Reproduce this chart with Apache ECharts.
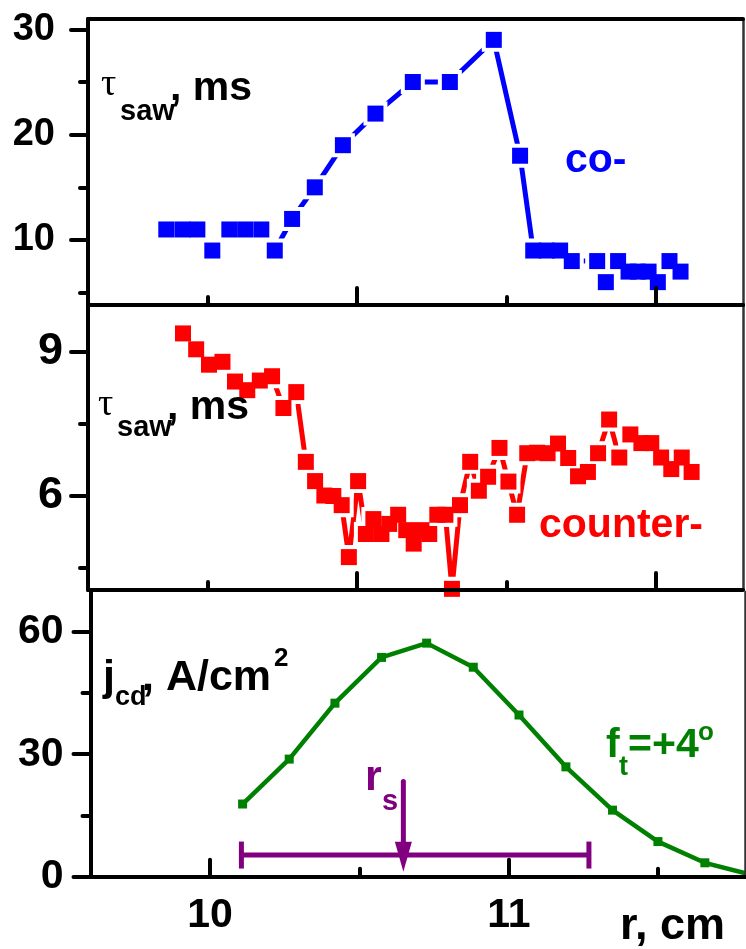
<!DOCTYPE html>
<html>
<head>
<meta charset="utf-8">
<script src="https://cdn.jsdelivr.net/npm/echarts@6/dist/echarts.min.js"></script>
<style>
  html, body { margin: 0; padding: 0; background: #fff; }
  #chart { width: 746px; height: 949px; }
</style>
</head>
<body>
<div id="chart"></div>
<script>
// Sawtooth period for co-current drive, r (cm) vs tau_saw (ms)
const coR = [9.862, 9.916, 9.966, 10.016, 10.073, 10.126, 10.180, 10.225, 10.283, 10.359,
             10.453, 10.562, 10.687, 10.811, 10.958, 11.046, 11.090, 11.135, 11.180, 11.219,
             11.304, 11.333, 11.374, 11.409, 11.440, 11.476, 11.507, 11.546, 11.583];
const coTau = [11, 11, 11, 9, 11, 11, 11, 9, 12, 15,
               19, 22, 25, 25, 29, 18, 9, 9, 9, 8,
               8, 6, 8, 7, 7, 7, 6, 8, 7];

// Sawtooth period for counter-current drive
const ctrR = [9.918, 9.962, 10.005, 10.050, 10.092, 10.133, 10.175, 10.216, 10.254, 10.297,
              10.329, 10.360, 10.391, 10.421, 10.449, 10.473, 10.504, 10.530, 10.555, 10.582,
              10.608, 10.638, 10.665, 10.690, 10.716, 10.742, 10.769, 10.796, 10.818, 10.845,
              10.879, 10.908, 10.939, 10.977, 11.007, 11.036, 11.070, 11.103, 11.138, 11.173,
              11.207, 11.240, 11.273, 11.307, 11.344, 11.378, 11.415, 11.452, 11.485, 11.518,
              11.552, 11.587, 11.620];
const ctrTau = [9.38, 9.05, 8.73, 8.79, 8.38, 8.20, 8.40, 8.49, 7.83, 8.16,
                6.71, 6.31, 6.01, 6.00, 5.81, 4.73, 6.31, 5.21, 5.52, 5.21,
                5.42, 5.61, 5.29, 5.01, 5.29, 5.21, 5.61, 5.61, 4.07, 5.81,
                6.71, 6.11, 6.40, 7.00, 6.30, 5.61, 6.89, 6.90, 6.89, 7.09,
                6.79, 6.41, 6.50, 6.89, 7.59, 6.80, 7.28, 7.10, 7.10, 6.80,
                6.56, 6.80, 6.50];

// Driven current density profile j_cd (A/cm^2)
const jR = [10.109, 10.265, 10.418, 10.574, 10.725, 10.881, 11.034, 11.191, 11.347, 11.499, 11.656, 11.81];
const jCd = [17.8, 28.8, 42.5, 53.7, 57.2, 51.3, 39.6, 26.9, 16.3, 8.6, 3.4, 0.5];

// Deposition width and the q=1 radius r_s
const depR = [10.105, 11.268];
const depLevel = 5.3;
const rsR = 10.647;
const rsArrowTop = 23.3;
const rsShaftEnd = 8;
const rsArrowTip = 1.2;

// Axis ranges and ticks
const rMin = 9.6, rMax = 11.792;
const tauCoRange = [3.83, 30.98];
const tauCtrRange = [4.046, 9.971];
const jRange = [0, 69.72];

const tauCoLabels = [10, 20, 30], tauCoMinor = [5, 15, 25];
const tauCtrLabels = [6, 9], tauCtrMinor = [4.5, 7.5];
const jLabels = [0, 30, 60], jMinor = [15, 45];
const rLabels = [10, 11];
const rHalf = [10.5, 11.5];

const FONT = 'Liberation Sans, Arial, Helvetica, sans-serif';
const BLUE = '#0000ff', RED = '#ff0000', GREEN = '#008000', PURPLE = '#800080';

const grids = [
  { left: 88, top: 19, width: 655, height: 286 },
  { left: 88, top: 305, width: 655, height: 285 },
  { left: 90.5, top: 592, width: 655, height: 284.7 }
];

function tickStyle() { return { color: '#000', width: 4, cap: 'round' }; }

function makeXAxes(gi, longTicks, shortTicks, labels) {
  return [
    {
      gridIndex: gi, type: 'value', min: rMin, max: rMax, position: 'bottom', z: 10,
      axisLine: { show: true, lineStyle: { color: '#000', width: 4 } },
      axisTick: { show: true, inside: true, length: 17, customValues: longTicks, lineStyle: tickStyle() },
      axisLabel: labels ? {
        show: true, customValues: labels, margin: 18,
        fontFamily: FONT, fontWeight: 'bold', fontSize: 41, color: '#000'
      } : { show: false },
      splitLine: { show: false }
    },
    {
      gridIndex: gi, type: 'value', min: rMin, max: rMax, position: 'bottom', z: 10,
      axisLine: { show: false },
      axisTick: { show: true, inside: true, length: 8, customValues: shortTicks, lineStyle: tickStyle() },
      axisLabel: { show: false },
      splitLine: { show: false }
    },
    {
      gridIndex: gi, type: 'value', min: rMin, max: rMax, position: 'top', z: 10,
      axisLine: { show: true, lineStyle: { color: '#000', width: 4 } },
      axisTick: { show: false }, axisLabel: { show: false }, splitLine: { show: false }
    }
  ];
}

function makeYAxes(gi, range, labels, minor, fontSize, margin) {
  return [
    {
      gridIndex: gi, type: 'value', min: range[0], max: range[1], position: 'left', z: 10,
      axisLine: { show: true, lineStyle: { color: '#000', width: 4 } },
      axisTick: { show: true, inside: false, length: 17, customValues: labels, lineStyle: tickStyle() },
      axisLabel: {
        show: true, customValues: labels, margin: margin,
        fontFamily: FONT, fontWeight: 'bold', fontSize: fontSize, color: '#000'
      },
      splitLine: { show: false }
    },
    {
      gridIndex: gi, type: 'value', min: range[0], max: range[1], position: 'left', z: 10,
      axisLine: { show: false },
      axisTick: { show: true, inside: false, length: 8, customValues: minor, lineStyle: tickStyle() },
      axisLabel: { show: false }, splitLine: { show: false }
    },
    {
      gridIndex: gi, type: 'value', min: range[0], max: range[1], position: 'right', z: 10,
      axisLine: { show: true, lineStyle: { color: '#333', width: 2.5 } },
      axisTick: { show: false }, axisLabel: { show: false }, splitLine: { show: false }
    }
  ];
}

const xAxis = [].concat(
  makeXAxes(0, rHalf, rLabels, null),
  makeXAxes(1, rHalf, rLabels, null),
  makeXAxes(2, rLabels, rHalf, rLabels)
);
const yAxis = [].concat(
  makeYAxes(0, tauCoRange, tauCoLabels, tauCoMinor, 38, 33),
  makeYAxes(1, tauCtrRange, tauCtrLabels, tauCtrMinor, 45, 25),
  makeYAxes(2, jRange, jLabels, jMinor, 41, 27)
);

function zip(a, b) { return a.map((v, i) => [v, b[i]]); }

// Line with a small white gap around each marker, markers redrawn on top
function gappedSeries(axisIdx, xs, ys, color, clip) {
  const data = zip(xs, ys);
  return [
    {
      type: 'line', xAxisIndex: axisIdx, yAxisIndex: axisIdx, data: data,
      symbol: 'rect', symbolSize: 16, showSymbol: true, showAllSymbol: true, clip: clip,
      lineStyle: { color: color, width: 5, cap: 'round' },
      itemStyle: { color: color, borderColor: '#fff', borderWidth: 8, opacity: 1 },
      z: 2, animation: false, silent: true
    },
    {
      type: 'scatter', xAxisIndex: axisIdx, yAxisIndex: axisIdx, data: data,
      symbol: 'rect', symbolSize: 16, clip: clip,
      itemStyle: { color: color, opacity: 1 },
      z: 3, animation: false, silent: true
    }
  ];
}

const series = [].concat(
  gappedSeries(0, coR, coTau, BLUE, true),
  gappedSeries(3, ctrR, ctrTau, RED, false),
  [
    {
      type: 'line', xAxisIndex: 6, yAxisIndex: 6, data: zip(jR, jCd),
      symbol: 'rect', symbolSize: 9, showSymbol: true, showAllSymbol: true, clip: true,
      lineStyle: { color: GREEN, width: 4.5 },
      itemStyle: { color: GREEN, opacity: 1 },
      z: 2, animation: false, silent: true
    },
    {
      type: 'line', xAxisIndex: 6, yAxisIndex: 6,
      data: depR.map(r => [r, depLevel]),
      symbol: 'rect', symbolSize: [5, 27], showSymbol: true,
      lineStyle: { color: PURPLE, width: 5 },
      itemStyle: { color: PURPLE, opacity: 1 },
      z: 3, animation: false, silent: true
    },
    {
      type: 'line', xAxisIndex: 6, yAxisIndex: 6,
      data: [[rsR, rsArrowTop], [rsR, rsShaftEnd]],
      symbol: 'none',
      lineStyle: { color: PURPLE, width: 5, cap: 'round' },
      z: 4, animation: false, silent: true
    },
    {
      type: 'scatter', xAxisIndex: 6, yAxisIndex: 6,
      data: [[rsR, rsArrowTip]],
      symbol: 'triangle', symbolSize: [17, 30], symbolRotate: 180, symbolOffset: [0, -15],
      itemStyle: { color: PURPLE, opacity: 1 },
      z: 4, animation: false, silent: true
    }
  ]
);

// Text placed by its baseline
function label(text, x, base, size, color, serif) {
  const fam = serif ? 'Liberation Serif, Times New Roman, serif' : FONT;
  const weight = serif ? 'normal' : 'bold';
  const k = serif ? 0.3375 : 0.3465;
  return {
    type: 'text', x: x, y: base - k * size, z: 100, silent: true,
    style: {
      text: text, fill: color,
      font: weight + ' ' + size + 'px ' + fam,
      align: 'left', verticalAlign: 'middle',
      textAlign: 'left', textVerticalAlign: 'middle'
    }
  };
}

const graphic = [
  // top panel y label
  label('\u03C4', 101, 98, 38, '#000', true),
  label('saw', 120, 122, 29, '#000'),
  label(', ms', 170, 103, 41, '#000'),
  label('co-', 565, 175, 41, BLUE),
  // middle panel y label
  label('\u03C4', 98, 418, 38, '#000', true),
  label('saw', 117, 438, 29, '#000'),
  label(', ms', 167, 422, 41, '#000'),
  label('counter-', 539, 540, 41, RED),
  // bottom panel
  label('j', 103, 693, 43, '#000'),
  label('cd', 115, 707, 27, '#000'),
  label(', A/cm', 142, 693, 43, '#000'),
  label('2', 274, 668, 26, '#000'),
  label('r', 365, 793, 43, PURPLE),
  label('s', 382, 812, 29, PURPLE),
  label('f', 606, 760, 41, GREEN),
  label('t', 619, 777, 27, GREEN),
  label('=+4', 628, 760, 41, GREEN),
  label('o', 698, 742, 26, GREEN),
  label('r, cm', 620, 942, 45, '#000')
];

const chart = echarts.init(document.getElementById('chart'), null, { renderer: 'canvas' });
chart.setOption({
  backgroundColor: '#fff',
  animation: false,
  grid: grids,
  xAxis: xAxis,
  yAxis: yAxis,
  series: series,
  graphic: graphic
});
</script>
</body>
</html>
